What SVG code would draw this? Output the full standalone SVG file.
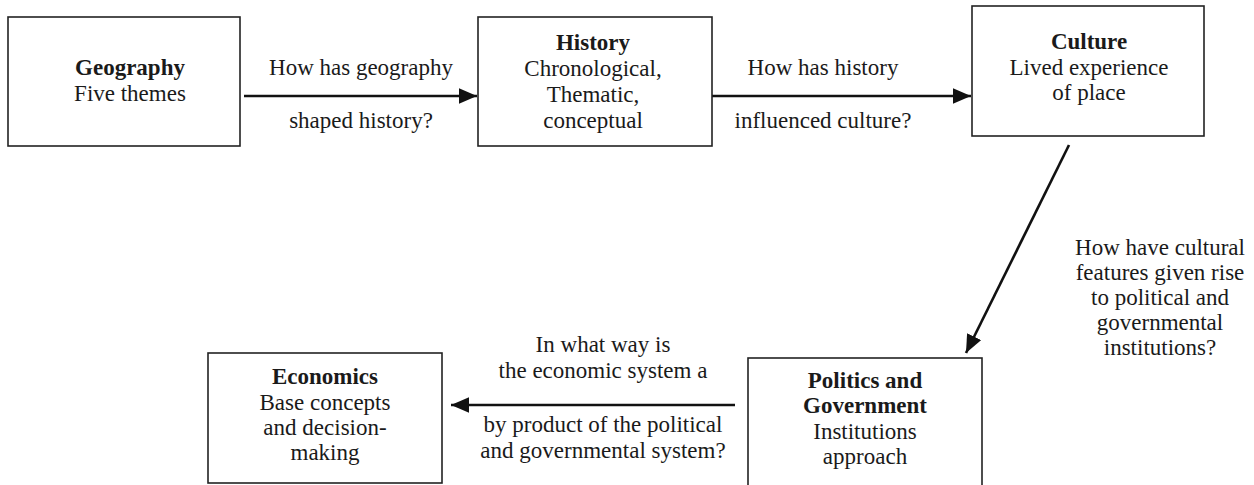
<svg xmlns="http://www.w3.org/2000/svg" width="1254" height="485" viewBox="0 0 1254 485">
<style>
text{font-family:"Liberation Serif","Times New Roman",serif;font-size:23px;fill:#1a1a1a;text-anchor:middle}
.b{font-weight:bold}
.box{fill:#fff;stroke:#222;stroke-width:1.6}
.arr{stroke:#111;stroke-width:2.6;fill:none;marker-end:url(#ah)}
</style>
<defs>
<marker id="ah" markerWidth="7" markerHeight="6" refX="7" refY="3" orient="auto" markerUnits="strokeWidth">
<path d="M0,0 L7,3 L0,6 Z" fill="#111"/>
</marker>
</defs>
<rect width="1254" height="485" fill="#fff"/>
<g id="connectors">
<line class="arr" x1="244" y1="96" x2="477" y2="96"/>
<line class="arr" x1="712" y1="96" x2="971" y2="96"/>
<line class="arr" x1="1069" y1="145" x2="966" y2="353"/>
<line class="arr" x1="735" y1="405" x2="451" y2="405"/>
<text x="361" y="75">How has geography</text>
<text x="361" y="128">shaped history?</text>
<text x="823" y="75">How has history</text>
<text x="823" y="128">influenced culture?</text>
<text x="1160" y="255">How have cultural</text>
<text x="1160" y="280">features given rise</text>
<text x="1160" y="305">to political and</text>
<text x="1160" y="330">governmental</text>
<text x="1160" y="355">institutions?</text>
<text x="603" y="352">In what way is</text>
<text x="603" y="378">the economic system a</text>
<text x="603" y="432">by product of the political</text>
<text x="603" y="458">and governmental system?</text>
</g>
<g id="geography">
<rect class="box" x="8" y="17" width="232" height="129"/>
<text class="b" x="130" y="75">Geography</text>
<text x="130" y="101">Five themes</text>
</g>
<g id="history">
<rect class="box" x="478" y="17" width="234" height="129"/>
<text class="b" x="593" y="50">History</text>
<text x="593" y="76">Chronological,</text>
<text x="593" y="102">Thematic,</text>
<text x="593" y="128">conceptual</text>
</g>
<g id="culture">
<rect class="box" x="972" y="6" width="232" height="130"/>
<text class="b" x="1089" y="49">Culture</text>
<text x="1089" y="75">Lived experience</text>
<text x="1089" y="100">of place</text>
</g>
<g id="politics">
<rect class="box" x="748" y="358" width="234" height="135"/>
<text class="b" x="865" y="388">Politics and</text>
<text class="b" x="865" y="413">Government</text>
<text x="865" y="439">Institutions</text>
<text x="865" y="464">approach</text>
</g>
<g id="economics">
<rect class="box" x="208" y="353" width="234" height="130"/>
<text class="b" x="325" y="384">Economics</text>
<text x="325" y="410">Base concepts</text>
<text x="325" y="435">and decision-</text>
<text x="325" y="460">making</text>
</g>
</svg>
